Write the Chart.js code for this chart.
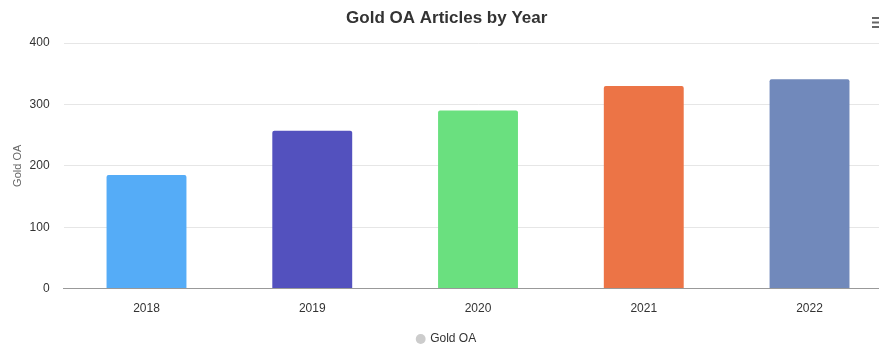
<!DOCTYPE html>
<html>
<head>
<meta charset="utf-8">
<script src="https://cdn.jsdelivr.net/npm/chart.js@4/dist/chart.umd.min.js"></script>
<style>
  html, body { margin: 0; padding: 0; background: #fff; overflow: hidden; }
  #wrap { width: 900px; height: 347px; position: relative; }
</style>
</head>
<body>
<div id="wrap"><canvas id="chart"></canvas></div>
<script>
const years = ['2018', '2019', '2020', '2021', '2022'];
const goldOA = [185, 257, 290, 330, 341];
const barColors = ['#55acf7', '#5351be', '#6ae07f', '#ec7446', '#7189bb'];
const yTicks = [0, 100, 200, 300, 400];

const FONT = '"Liberation Sans", Arial, Helvetica, sans-serif';

// little hamburger menu in the top right corner
const menuIcon = {
  id: 'menuIcon',
  afterDraw(chart) {
    const ctx = chart.ctx;
    ctx.save();
    ctx.strokeStyle = '#666';
    ctx.lineWidth = 2;
    for (const y of [18, 22.5, 27]) {
      ctx.beginPath();
      ctx.moveTo(872, y);
      ctx.lineTo(884, y);
      ctx.stroke();
    }
    ctx.restore();
  }
};

new Chart(document.getElementById('chart'), {
  type: 'bar',
  data: {
    labels: years,
    datasets: [{
      label: 'Gold OA',
      data: goldOA,
      backgroundColor: barColors,
      borderRadius: 2,
      borderSkipped: 'bottom',
      categoryPercentage: 1,
      barPercentage: 0.482
    }]
  },
  options: {
    responsive: true,
    maintainAspectRatio: false,
    animation: false,
    layout: { padding: { left: 1, right: 7.6, top: 0, bottom: -8 } },
    plugins: {
      title: {
        display: true,
        text: 'Gold OA Articles by Year',
        color: '#333',
        font: { family: FONT, size: 17, weight: 'bold' },
        padding: { top: 8, bottom: 14.6 }
      },
      legend: {
        position: 'bottom',
        labels: {
          color: '#333',
          font: { family: FONT, size: 12 },
          usePointStyle: true,
          pointStyle: 'circle',
          boxWidth: 7,
          boxHeight: 7,
          padding: 4,
          generateLabels: () => [{
            text: 'Gold OA',
            fillStyle: '#cccccc',
            strokeStyle: '#cccccc',
            lineWidth: 0,
            pointStyle: 'circle',
            fontColor: '#333',
            datasetIndex: 0
          }]
        }
      },
      tooltip: { enabled: false }
    },
    scales: {
      x: {
        grid: { display: false, drawTicks: false },
        border: { display: true, color: '#999', width: 1 },
        ticks: { color: '#333', font: { family: FONT, size: 12 }, padding: 13 }
      },
      y: {
        min: 0,
        max: 400,
        afterBuildTicks: (axis) => { axis.ticks = yTicks.map(v => ({ value: v })); },
        grid: { color: '#e6e6e6', drawTicks: false },
        border: { display: false },
        ticks: { color: '#333', font: { family: FONT, size: 12 }, padding: 14 },
        title: {
          display: true,
          text: 'Gold OA',
          color: '#666',
          font: { family: FONT, size: 11 },
          padding: { top: 10.4, bottom: -9 }
        }
      }
    }
  },
  plugins: [menuIcon]
});
</script>
</body>
</html>
